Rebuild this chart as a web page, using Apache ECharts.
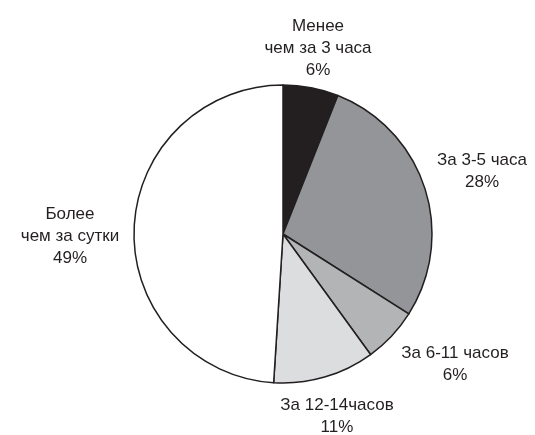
<!DOCTYPE html>
<html>
<head>
<meta charset="utf-8">
<script src="https://cdn.jsdelivr.net/npm/echarts@6/dist/echarts.min.js"></script>
<style>
  html, body { margin: 0; padding: 0; background: #fff; }
  #chart { width: 535px; height: 435px; }
</style>
</head>
<body>
<div id="chart"></div>
<script>
// Время доставки: доли ответов
var categories = ['Менее\nчем за 3 часа', 'За 3-5 часа', 'За 6-11 часов', 'За 12-14часов', 'Более\nчем за сутки'];
var shares = [6, 28, 6, 11, 49];
var sliceColors = ['#231f20', '#939598', '#b3b4b6', '#dcdddf', '#ffffff'];

// Label anchor points (centre of each text block)
var labelSpots = [
  [318, 48],
  [482, 171],
  [455, 364],
  [337, 416],
  [70, 236]
];

var chart = echarts.init(document.getElementById('chart'), null, { renderer: 'canvas' });
chart.setOption({
  backgroundColor: '#ffffff',
  animation: false,
  series: [{
    type: 'pie',
    center: [283, 234],
    radius: 149,
    startAngle: 90,
    clockwise: true,
    silent: true,
    avoidLabelOverlap: false,
    itemStyle: { borderColor: '#231f20', borderWidth: 1.5 },
    label: {
      show: true,
      position: 'outside',
      overflow: 'none',
      width: 200,
      formatter: function (p) { return p.name + '\n' + p.value + '%'; },
      fontFamily: "'Liberation Sans', Arial, sans-serif",
      fontSize: 17,
      lineHeight: 22,
      color: '#231f20',
      align: 'center'
    },
    labelLine: { show: false },
    labelLayout: function (p) {
      var s = labelSpots[p.dataIndex];
      return { x: s[0], y: s[1], align: 'center', verticalAlign: 'middle' };
    },
    data: categories.map(function (c, i) {
      return { name: c, value: shares[i], itemStyle: { color: sliceColors[i] } };
    })
  }]
});
</script>
</body>
</html>
